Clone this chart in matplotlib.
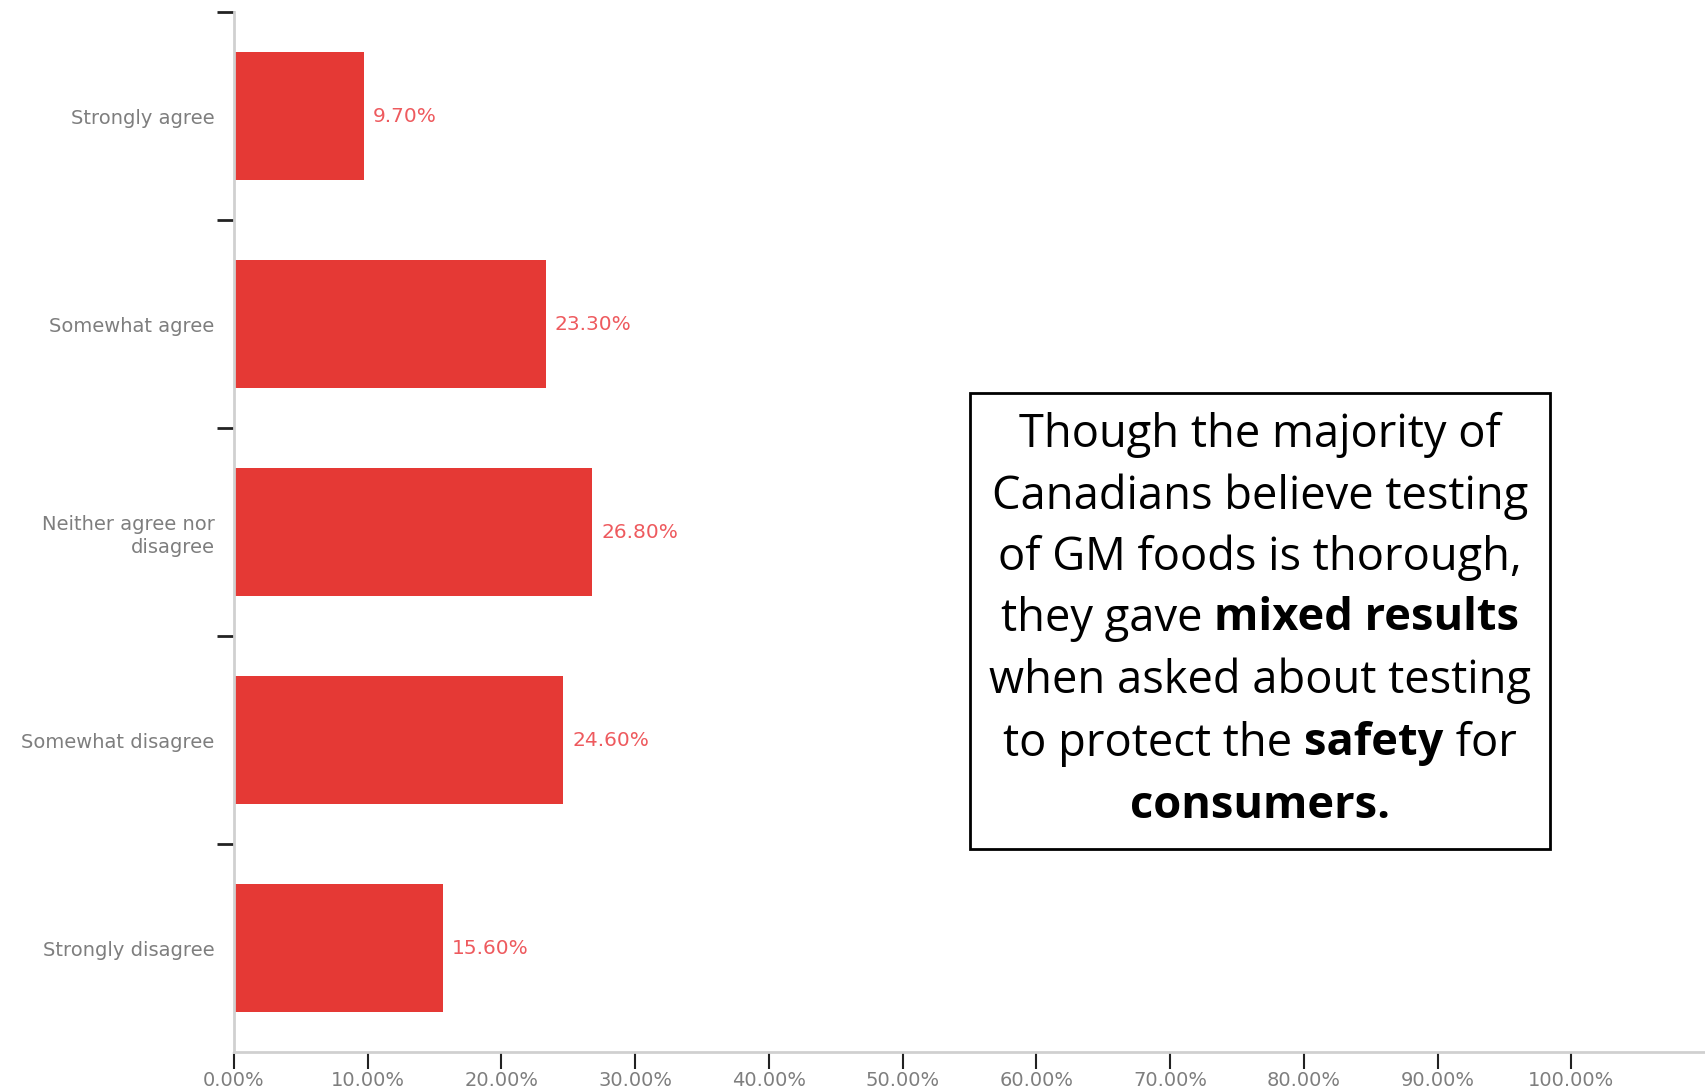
import matplotlib
matplotlib.use("Agg")
import matplotlib.pyplot as plt
from matplotlib.patches import Rectangle
from matplotlib.ticker import FixedLocator

categories = ["Strongly agree", "Somewhat agree", "Neither agree nor\ndisagree",
              "Somewhat disagree", "Strongly disagree"]
values = [9.70, 23.30, 26.80, 24.60, 15.60]
x_ticks = [0, 10, 20, 30, 40, 50, 60, 70, 80, 90, 100]

note_lines = [
    [("Though the majority of", False)],
    [("Canadians believe testing", False)],
    [("of GM foods is thorough,", False)],
    [("they gave ", False), ("mixed results", True)],
    [("when asked about testing", False)],
    [("to protect the ", False), ("safety", True), (" for", False)],
    [("consumers.", True)],
]

W, H = 1705, 1091
fig = plt.figure(figsize=(W / 100, H / 100), dpi=100)
ax = fig.add_axes([234 / W, 1 - 1052 / H, 1 - 234 / W, (1052 - 12) / H])

bar_color = "#E53935"
label_color = "#EE5A5E"
gray = "#7E7E7E"
font = "DejaVu Sans"

ypos = list(range(len(categories)))
ax.barh(ypos, values, height=0.615, color=bar_color, zorder=2)
ax.set_ylim(len(categories) - 0.5, -0.5)
ax.set_xlim(0, 110)

for y, v in zip(ypos, values):
    ax.text(v + 0.7, y, f"{v:.2f}%", va="center", ha="left", color=label_color,
            fontsize=14.5, family=font)

# y ticks: boundaries with marks (not at bottom), labels at centers
ax.yaxis.set_major_locator(FixedLocator([i - 0.5 for i in range(len(categories))]))
ax.yaxis.set_major_formatter(plt.NullFormatter())
ax.yaxis.set_minor_locator(FixedLocator(ypos))
ax.set_yticklabels(categories, minor=True, fontsize=14, color=gray, family=font,
                   ha="right", linespacing=1.25)
ax.tick_params(axis="y", which="major", length=12, width=2, color="#222222", direction="out")
ax.tick_params(axis="y", which="minor", length=0, pad=14)

ax.set_xticks(x_ticks)
ax.set_xticklabels([f"{t:.2f}%" for t in x_ticks], fontsize=14, color=gray, family=font)
ax.tick_params(axis="x", length=12, width=1.5, color="#222222", direction="out", pad=2)

for s in ["top", "right"]:
    ax.spines[s].set_visible(False)
for s in ["left", "bottom"]:
    ax.spines[s].set_color("#D0D0D0")
    ax.spines[s].set_linewidth(2)

# annotation box
bx0, bx1, by0, by1 = 970, 1550, 393, 849
fig.patches.append(Rectangle((bx0 / W, 1 - by1 / H), (bx1 - bx0) / W, (by1 - by0) / H,
                             transform=fig.transFigure, fill=False, edgecolor="black",
                             linewidth=2, zorder=5))

renderer = fig.canvas.get_renderer()
box_font = "Open Sans"
base = 30
t = fig.text(0, 0, "Though the majority of", fontsize=base, family=box_font)
w0 = t.get_window_extent(renderer).width
t.remove()
fs = base * 481 / w0

line_y = [435, 497, 558, 619, 681, 744, 806]
cx = (bx0 + bx1) / 2
for segs, ly in zip(note_lines, line_y):
    widths = []
    objs = []
    for txt, bold in segs:
        o = fig.text(0, 1 - ly / H, txt, fontsize=fs, family=box_font,
                     fontweight="bold" if bold else "normal", va="center", ha="left")
        widths.append(o.get_window_extent(renderer).width)
        objs.append(o)
    total = sum(widths)
    x = cx - total / 2
    for o, w in zip(objs, widths):
        o.set_x(x / W)
        x += w

fig.savefig("out.png", dpi=100)
